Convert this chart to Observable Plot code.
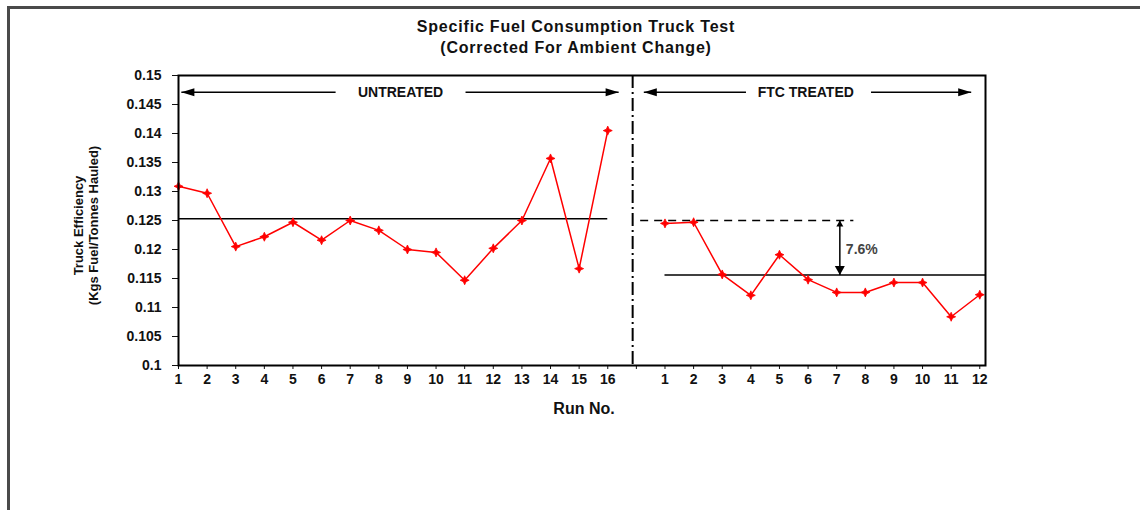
<!DOCTYPE html>
<html><head><meta charset="utf-8">
<script src="https://cdn.jsdelivr.net/npm/d3@7"></script>
<script src="https://cdn.jsdelivr.net/npm/@observablehq/plot@0.6"></script>
<style>
body{margin:0;background:#fff;font-family:"Liberation Sans",Arial,sans-serif;}
#wrap{position:relative;width:1140px;height:510px;overflow:hidden;}
#border{position:absolute;left:7px;top:6px;width:1140px;height:520px;border-top:3px solid #4a4a4a;border-left:3px solid #4a4a4a;}
#title{position:absolute;left:12px;top:16px;width:1128px;text-align:center;font-weight:bold;font-size:16px;letter-spacing:0.8px;line-height:21px;color:#111;}
#chart{position:absolute;left:0;top:60px;}
</style></head><body>
<div id="wrap"><div id="border"></div>
<div id="title">Specific Fuel Consumption Truck Test<br>(Corrected For Ambient Change)</div>
<div id="chart"></div></div>
<script>
// ---- data ----
const untreatedRuns = [1,2,3,4,5,6,7,8,9,10,11,12,13,14,15,16];
const untreatedValues = [0.1309,0.1297,0.1205,0.1222,0.1247,0.1216,0.1250,0.1233,0.1200,0.1195,0.1147,0.1202,0.1250,0.1357,0.1167,0.1405];
const treatedRuns = [1,2,3,4,5,6,7,8,9,10,11,12];
const treatedValues = [0.1245,0.1247,0.1157,0.1121,0.1191,0.1148,0.1126,0.1126,0.1143,0.1143,0.1084,0.1122];
const yTicks = [0.1,0.105,0.11,0.115,0.12,0.125,0.13,0.135,0.14,0.145,0.15];
const untreatedMean = 0.1253;
const treatedMean = 0.1156;
const untreatedReference = 0.125;
const changeLabel = "7.6%";
const sectionLabels = ["UNTREATED","FTC TREATED"];
const yTitleLines = ["Truck Efficiency","(Kgs Fuel/Tonnes Hauled)"];
const xTitle = "Run No.";

// ---- layout (index positions on a shared x axis) ----
const gapIndex = untreatedRuns.length;              // 16: empty slot between panels
const xMax = 28.2;
const dividerIndex = 15.87;
const untreated = untreatedRuns.map((r,i)=>({x:i, y:untreatedValues[i]}));
const treated = treatedRuns.map((r,i)=>({x:gapIndex+1+i, y:treatedValues[i]}));
const tickLabel = i => i < gapIndex ? String(untreatedRuns[i]) : i === gapIndex ? "" : String(treatedRuns[i-gapIndex-1]);

const arrowY = 0.1471;
const sectionArrows = [
  {x1:5.49, x2:0.1, dir:"left"},
  {x1:10.03, x2:15.38, dir:"right"},
  {x1:19.83, x2:16.26, dir:"left"},
  {x1:24.2, x2:27.7, dir:"right"}
];
const sectionText = [{x:7.76, label:sectionLabels[0]},{x:21.92, label:sectionLabels[1]}];
const changeX = 23.11;

const head = (pts) => ({draw(ctx){ctx.moveTo(pts[0][0],pts[0][1]); for(const p of pts.slice(1)) ctx.lineTo(p[0],p[1]); ctx.closePath();}});
const headLeft = head([[0,0],[13,-4],[13,4]]);
const headRight = head([[0,0],[-13,-4],[-13,4]]);
const headUp = head([[0,0],[-3.5,6],[3.5,6]]);
const headDown = head([[0,0],[-5,-9],[5,-9]]);
const starMarker = head([[0,-4.5],[1.4,-1.4],[4.5,0],[1.4,1.4],[0,4.5],[-1.4,1.4],[-4.5,0],[-1.4,-1.4]]);

const red = "#ff0000";
const chart = Plot.plot({
  width: 1140, height: 450,
  marginLeft: 178, marginRight: 155, marginTop: 15, marginBottom: 145,
  style: {fontFamily: "'Liberation Sans', Arial, sans-serif", fontWeight: "bold", fontSize: "14px", color: "#111", background: "transparent"},
  x: {type: "linear", domain: [0, xMax]},
  y: {domain: [0.1, 0.15]},
  marks: [
    Plot.ruleY([{x1:0, x2:gapIndex-1, y:untreatedMean}], {x1:"x1", x2:"x2", y:"y", stroke:"#000", strokeWidth:1.5}),
    Plot.ruleY([{x1:16.15, x2:23.6, y:untreatedReference}], {x1:"x1", x2:"x2", y:"y", stroke:"#000", strokeWidth:1.5, strokeDasharray:"8,6"}),
    Plot.ruleY([{x1:gapIndex+1, x2:xMax, y:treatedMean}], {x1:"x1", x2:"x2", y:"y", stroke:"#000", strokeWidth:1.5}),
    Plot.ruleX([dividerIndex], {stroke:"#000", strokeWidth:2, strokeDasharray:"13,4,2,4"}),
    Plot.line(untreated, {x:"x", y:"y", stroke:red, strokeWidth:1.5}),
    Plot.line(treated, {x:"x", y:"y", stroke:red, strokeWidth:1.5}),
    Plot.dot(untreated, {x:"x", y:"y", symbol:starMarker, fill:red, stroke:red, strokeWidth:0.8}),
    Plot.dot(treated, {x:"x", y:"y", symbol:starMarker, fill:red, stroke:red, strokeWidth:0.8}),
    // section arrows
    Plot.link(sectionArrows, {x1:"x1", x2:"x2", y1:()=>arrowY, y2:()=>arrowY, stroke:"#000", strokeWidth:1.5}),
    Plot.dot(sectionArrows.filter(d=>d.dir==="left"), {x:"x2", y:()=>arrowY, symbol:headLeft, fill:"#000", stroke:"none"}),
    Plot.dot(sectionArrows.filter(d=>d.dir==="right"), {x:"x2", y:()=>arrowY, symbol:headRight, fill:"#000", stroke:"none"}),
    Plot.text(sectionText, {x:"x", y:()=>arrowY, text:"label", fontSize:14, fontWeight:"bold", fill:"#111", style:"letter-spacing:1.2px"}),
    // change arrow
    Plot.link([{x:changeX}], {x1:"x", x2:"x", y1:()=>untreatedReference, y2:()=>treatedMean, stroke:"#000", strokeWidth:1.5}),
    Plot.dot([{x:changeX}], {x:"x", y:()=>untreatedReference, symbol:headUp, fill:"#000", stroke:"none"}),
    Plot.dot([{x:changeX}], {x:"x", y:()=>treatedMean, symbol:headDown, fill:"#000", stroke:"none"}),
    Plot.text([changeLabel], {x:()=>changeX, y:()=>0.1200, text:d=>d, dx:6, textAnchor:"start", fontSize:14, fontWeight:"bold", fill:"#444"}),
    // axes
    Plot.axisY({ticks: yTicks, tickFormat: d => String(+d.toFixed(3)), tickSize: 6, tickPadding: 11, fontSize: 14, fontWeight: "bold", label: null}),
    Plot.axisX({ticks: d3.range(0, 29), tickFormat: tickLabel, tickSize: 4, tickPadding: 5, fontSize: 14, fontWeight: "bold", label: null}),
    Plot.text([yTitleLines[0]], {frameAnchor:"left", textAnchor:"middle", text:d=>d, rotate:-90, dx:-100, dy:5, fontSize:13, fontWeight:"bold", fill:"#111"}),
    Plot.text([yTitleLines[1]], {frameAnchor:"left", textAnchor:"middle", text:d=>d, rotate:-90, dx:-85, dy:5, fontSize:13, fontWeight:"bold", fill:"#111"}),
    Plot.text([xTitle], {frameAnchor:"bottom", text:d=>d, dx:2, dy:48, fontSize:16, fontWeight:"bold", fill:"#111"}),
    Plot.frame({stroke:"#000", strokeWidth:2})
  ]
});
document.getElementById("chart").appendChild(chart);
</script>
</body></html>
